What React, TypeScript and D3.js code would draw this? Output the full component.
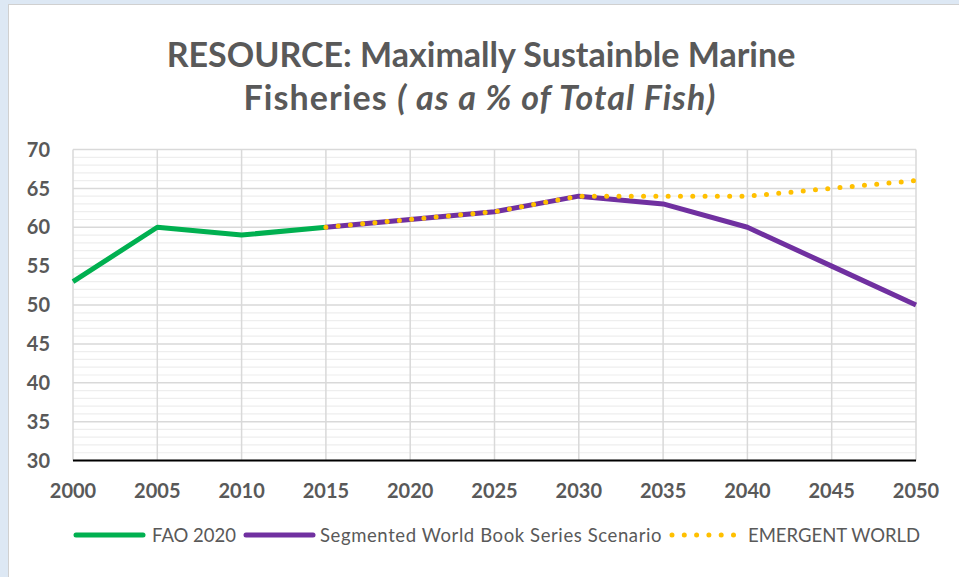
import React from "react";
import * as d3 from "d3";

const years = [2000, 2005, 2010, 2015, 2020, 2025, 2030, 2035, 2040, 2045, 2050];
const faoYears = [2000, 2005, 2010, 2015];
const faoValues = [53, 60, 59, 60];
const segYears = [2015, 2020, 2025, 2030, 2035, 2040, 2045, 2050];
const segValues = [60, 61, 62, 64, 63, 60, 55, 50];
const emYears = [2015, 2020, 2025, 2030, 2035, 2040, 2045, 2050];
const emValues = [60, 61, 62, 64, 64, 64, 65, 66];
const yTicks = [30, 35, 40, 45, 50, 55, 60, 65, 70];
const seriesNames = ["FAO 2020", "Segmented World Book Series Scenario", "EMERGENT WORLD"];
const titleLine1 = "RESOURCE: Maximally Sustainble Marine";
const titleLine2a = "Fisheries ";
const titleLine2b = "( as a % of Total Fish)";

const W = 959;
const H = 577;
const FONT = "Lato, 'Open Sans', sans-serif";
const GREY = "#595959";

export default function App() {
  const x = d3.scaleLinear().domain([2000, 2050]).range([73, 916]);
  const y = d3.scaleLinear().domain([30, 70]).range([460.5, 149.5]);
  const minor = d3.range(30, 71, 1).filter((v) => v % 5 !== 0);
  const line = d3
    .line<[number, number]>()
    .x((d) => x(d[0]))
    .y((d) => y(d[1]));
  const fao = line(faoYears.map((yr, i) => [yr, faoValues[i]]));
  const seg = line(segYears.map((yr, i) => [yr, segValues[i]]));
  const em = line(emYears.map((yr, i) => [yr, emValues[i]]));

  return (
    <div style={{ position: "fixed", left: 0, top: 0 }}>
      <svg width={W} height={H} style={{ display: "block" }}>
        <rect x={0} y={0} width={W} height={H} fill="#dde8f4" />
        <rect x={8.5} y={4.5} width={W} height={H} fill="#ffffff" stroke="#d0d0d0" />
        <text x={481} y={67} textAnchor="middle" fontFamily={FONT} fontWeight={700} fontSize={34} fill={GREY}>
          {titleLine1}
        </text>
        <text x={480} y={110} textAnchor="middle" fontFamily={FONT} fontWeight={700} fontSize={34} fill={GREY} letterSpacing={1.1}>
          {titleLine2a}
          <tspan fontStyle="italic">{titleLine2b}</tspan>
        </text>
        {minor.map((v) => (
          <line key={"m" + v} x1={x(2000)} x2={x(2050)} y1={y(v)} y2={y(v)} stroke="#eeeeee" strokeWidth={1.2} />
        ))}
        {yTicks.map((v) => (
          <line key={"M" + v} x1={x(2000)} x2={x(2050)} y1={y(v)} y2={y(v)} stroke="#d9d9d9" strokeWidth={1.5} />
        ))}
        {years.map((v) => (
          <line key={"v" + v} x1={x(v)} x2={x(v)} y1={y(70)} y2={y(30)} stroke="#d9d9d9" strokeWidth={1.5} />
        ))}
        <line x1={x(2000)} x2={x(2050)} y1={y(30)} y2={y(30)} stroke="#000" strokeWidth={2} />
        {yTicks.map((v) => (
          <text key={"yt" + v} x={50} y={y(v)} dy="0.36em" textAnchor="end" fontFamily={FONT} fontWeight={700} fontSize={20} fill={GREY}>
            {v}
          </text>
        ))}
        {years.map((v) => (
          <text key={"xt" + v} x={x(v)} y={498} textAnchor="middle" fontFamily={FONT} fontWeight={700} fontSize={20} fill={GREY}>
            {v}
          </text>
        ))}
        <path d={fao ?? ""} fill="none" stroke="#00b050" strokeWidth={5} strokeLinejoin="round" />
        <path d={seg ?? ""} fill="none" stroke="#7030a0" strokeWidth={5} strokeLinejoin="round" />
        <path d={em ?? ""} fill="none" stroke="#ffc000" strokeWidth={5} strokeLinecap="round" strokeDasharray="0 12.3" />
        {/* legend */}
        <line x1={76} x2={143} y1={535} y2={535} stroke="#00b050" strokeWidth={5} strokeLinecap="round" />
        <text x={152} y={541.5} fontFamily={FONT} fontSize={18.5} fill={GREY}>{seriesNames[0]}</text>
        <line x1={246} x2={313} y1={535} y2={535} stroke="#7030a0" strokeWidth={5} strokeLinecap="round" />
        <text x={320} y={541.5} fontFamily={FONT} fontSize={18.5} fill={GREY} letterSpacing={0.6}>{seriesNames[1]}</text>
        <line x1={672} x2={734} y1={535} y2={535} stroke="#ffc000" strokeWidth={5} strokeLinecap="round" strokeDasharray="0 12.3" />
        <text x={748} y={541.5} fontFamily={FONT} fontSize={18.5} fill={GREY}>{seriesNames[2]}</text>
      </svg>
    </div>
  );
}
